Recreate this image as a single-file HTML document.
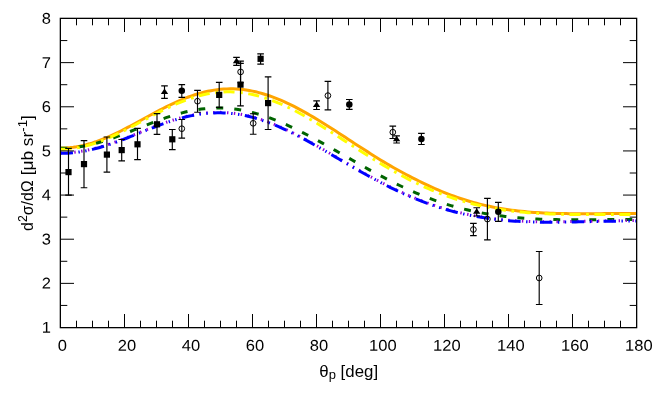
<!DOCTYPE html>
<html><head><meta charset="utf-8"><title>plot</title>
<style>
html,body{margin:0;padding:0;background:#fff;}
svg{display:block;}
text{font-family:"Liberation Sans",sans-serif;fill:#000;}
</style></head><body>
<svg width="664" height="399" viewBox="0 0 664 399">
<rect width="664" height="399" fill="#fff"/>
<g>
<path d="M60.50 148.08 L63.70 148.02 L66.90 147.86 L70.10 147.59 L73.30 147.22 L76.50 146.74 L79.70 146.16 L82.90 145.48 L86.10 144.70 L89.30 143.82 L92.50 142.85 L95.70 141.80 L98.90 140.66 L102.10 139.44 L105.30 138.15 L108.50 136.79 L111.70 135.36 L114.90 133.88 L118.10 132.34 L121.30 130.75 L124.50 129.12 L127.70 127.45 L130.90 125.76 L134.10 124.04 L137.30 122.30 L140.50 120.55 L143.70 118.79 L146.90 117.04 L150.10 115.29 L153.30 113.56 L156.50 111.85 L159.70 110.16 L162.90 108.50 L166.10 106.88 L169.30 105.31 L172.50 103.78 L175.70 102.30 L178.90 100.88 L182.10 99.52 L185.30 98.23 L188.50 97.00 L191.70 95.85 L194.90 94.78 L198.10 93.79 L201.30 92.88 L204.50 92.06 L207.70 91.33 L210.90 90.69 L214.10 90.14 L217.30 89.68 L220.50 89.31 L223.70 89.05 L226.90 88.89 L230.10 88.82 L233.30 88.86 L236.50 88.99 L239.70 89.23 L242.90 89.56 L246.10 89.99 L249.30 90.51 L252.50 91.12 L255.70 91.83 L258.90 92.62 L262.10 93.49 L265.30 94.45 L268.50 95.49 L271.70 96.61 L274.90 97.80 L278.10 99.08 L281.30 100.42 L284.50 101.83 L287.70 103.31 L290.90 104.85 L294.10 106.45 L297.30 108.11 L300.50 109.81 L303.70 111.56 L306.90 113.37 L310.10 115.21 L313.30 117.10 L316.50 119.02 L319.70 120.97 L322.90 122.95 L326.10 124.96 L329.30 126.99 L332.50 129.03 L335.70 131.09 L338.90 133.17 L342.10 135.26 L345.30 137.36 L348.50 139.46 L351.70 141.56 L354.90 143.65 L358.10 145.72 L361.30 147.78 L364.50 149.83 L367.70 151.87 L370.90 153.91 L374.10 155.92 L377.30 157.93 L380.50 159.91 L383.70 161.86 L386.90 163.77 L390.10 165.63 L393.30 167.46 L396.50 169.26 L399.70 171.03 L402.90 172.78 L406.10 174.50 L409.30 176.18 L412.50 177.82 L415.70 179.43 L418.90 181.02 L422.10 182.58 L425.30 184.11 L428.50 185.62 L431.70 187.09 L434.90 188.53 L438.10 189.92 L441.30 191.27 L444.50 192.57 L447.70 193.84 L450.90 195.06 L454.10 196.24 L457.30 197.38 L460.50 198.47 L463.70 199.52 L466.90 200.53 L470.10 201.49 L473.30 202.40 L476.50 203.28 L479.70 204.11 L482.90 204.90 L486.10 205.64 L489.30 206.34 L492.50 207.00 L495.70 207.62 L498.90 208.20 L502.10 208.74 L505.30 209.25 L508.50 209.72 L511.70 210.15 L514.90 210.56 L518.10 210.94 L521.30 211.29 L524.50 211.61 L527.70 211.91 L530.90 212.18 L534.10 212.41 L537.30 212.62 L540.50 212.81 L543.70 212.97 L546.90 213.11 L550.10 213.23 L553.30 213.33 L556.50 213.42 L559.70 213.50 L562.90 213.56 L566.10 213.61 L569.30 213.65 L572.50 213.68 L575.70 213.70 L578.90 213.71 L582.10 213.72 L585.30 213.72 L588.50 213.71 L591.70 213.69 L594.90 213.68 L598.10 213.66 L601.30 213.64 L604.50 213.61 L607.70 213.59 L610.90 213.57 L614.10 213.55 L617.30 213.53 L620.50 213.51 L623.70 213.50 L626.90 213.49 L630.10 213.48 L633.30 213.48 L636.50 213.47" fill="none" stroke="#ffa500" stroke-width="3"/>
<path d="M60.50 148.33 L63.70 148.29 L66.90 148.16 L70.10 147.95 L73.30 147.66 L76.50 147.28 L79.70 146.83 L82.90 146.30 L86.10 145.69 L89.30 145.01 L92.50 144.26 L95.70 143.45 L98.90 142.57 L102.10 141.63 L105.30 140.64 L108.50 139.59 L111.70 138.50 L114.90 137.37 L118.10 136.20 L121.30 135.00 L124.50 133.77 L127.70 132.52 L130.90 131.25 L134.10 129.97 L137.30 128.69 L140.50 127.40 L143.70 126.12 L146.90 124.85 L150.10 123.59 L153.30 122.35 L156.50 121.14 L159.70 119.96 L162.90 118.81 L166.10 117.70 L169.30 116.63 L172.50 115.61 L175.70 114.64 L178.90 113.73 L182.10 112.87 L185.30 112.08 L188.50 111.35 L191.70 110.68 L194.90 110.09 L198.10 109.56 L201.30 109.11 L204.50 108.74 L207.70 108.44 L210.90 108.22 L214.10 108.08 L217.30 108.02 L220.50 108.04 L223.70 108.13 L226.90 108.31 L230.10 108.57 L233.30 108.90 L236.50 109.31 L239.70 109.80 L242.90 110.37 L246.10 111.01 L249.30 111.73 L252.50 112.51 L255.70 113.37 L258.90 114.29 L262.10 115.28 L265.30 116.34 L268.50 117.45 L271.70 118.63 L274.90 119.86 L278.10 121.14 L281.30 122.48 L284.50 123.87 L287.70 125.31 L290.90 126.78 L294.10 128.31 L297.30 129.87 L300.50 131.46 L303.70 133.09 L306.90 134.75 L310.10 136.44 L313.30 138.15 L316.50 139.89 L319.70 141.65 L322.90 143.42 L326.10 145.21 L329.30 147.02 L332.50 148.83 L335.70 150.66 L338.90 152.48 L342.10 154.31 L345.30 156.15 L348.50 157.98 L351.70 159.81 L354.90 161.63 L358.10 163.44 L361.30 165.25 L364.50 167.04 L367.70 168.82 L370.90 170.58 L374.10 172.33 L377.30 174.06 L380.50 175.77 L383.70 177.45 L386.90 179.11 L390.10 180.75 L393.30 182.36 L396.50 183.94 L399.70 185.49 L402.90 187.02 L406.10 188.51 L409.30 189.96 L412.50 191.39 L415.70 192.77 L418.90 194.13 L422.10 195.44 L425.30 196.72 L428.50 197.96 L431.70 199.17 L434.90 200.33 L438.10 201.46 L441.30 202.54 L444.50 203.59 L447.70 204.60 L450.90 205.57 L454.10 206.49 L457.30 207.38 L460.50 208.23 L463.70 209.04 L466.90 209.81 L470.10 210.55 L473.30 211.24 L476.50 211.90 L479.70 212.53 L482.90 213.12 L486.10 213.69 L489.30 214.23 L492.50 214.73 L495.70 215.22 L498.90 215.67 L502.10 216.09 L505.30 216.49 L508.50 216.86 L511.70 217.20 L514.90 217.52 L518.10 217.82 L521.30 218.08 L524.50 218.33 L527.70 218.54 L530.90 218.74 L534.10 218.91 L537.30 219.06 L540.50 219.19 L543.70 219.30 L546.90 219.40 L550.10 219.48 L553.30 219.55 L556.50 219.61 L559.70 219.66 L562.90 219.70 L566.10 219.73 L569.30 219.75 L572.50 219.76 L575.70 219.77 L578.90 219.76 L582.10 219.76 L585.30 219.75 L588.50 219.73 L591.70 219.72 L594.90 219.70 L598.10 219.68 L601.30 219.66 L604.50 219.64 L607.70 219.62 L610.90 219.60 L614.10 219.58 L617.30 219.56 L620.50 219.55 L623.70 219.54 L626.90 219.53 L630.10 219.52 L633.30 219.52 L636.50 219.52" fill="none" stroke="#006400" stroke-width="3" stroke-dasharray="6.92 11.08"/>
<path d="M60.50 149.28 L63.70 149.23 L66.90 149.06 L70.10 148.80 L73.30 148.42 L76.50 147.95 L79.70 147.37 L82.90 146.69 L86.10 145.91 L89.30 145.04 L92.50 144.08 L95.70 143.04 L98.90 141.91 L102.10 140.70 L105.30 139.42 L108.50 138.07 L111.70 136.65 L114.90 135.18 L118.10 133.65 L121.30 132.08 L124.50 130.47 L127.70 128.82 L130.90 127.15 L134.10 125.45 L137.30 123.74 L140.50 122.01 L143.70 120.29 L146.90 118.57 L150.10 116.85 L153.30 115.15 L156.50 113.48 L159.70 111.83 L162.90 110.21 L166.10 108.64 L169.30 107.11 L172.50 105.62 L175.70 104.20 L178.90 102.83 L182.10 101.52 L185.30 100.29 L188.50 99.12 L191.70 98.04 L194.90 97.03 L198.10 96.10 L201.30 95.26 L204.50 94.50 L207.70 93.84 L210.90 93.27 L214.10 92.79 L217.30 92.41 L220.50 92.12 L223.70 91.93 L226.90 91.84 L230.10 91.84 L233.30 91.94 L236.50 92.13 L239.70 92.43 L242.90 92.81 L246.10 93.29 L249.30 93.86 L252.50 94.53 L255.70 95.28 L258.90 96.12 L262.10 97.04 L265.30 98.05 L268.50 99.13 L271.70 100.30 L274.90 101.53 L278.10 102.84 L281.30 104.22 L284.50 105.66 L287.70 107.17 L290.90 108.73 L294.10 110.35 L297.30 112.03 L300.50 113.75 L303.70 115.52 L306.90 117.33 L310.10 119.18 L313.30 121.07 L316.50 122.99 L319.70 124.93 L322.90 126.91 L326.10 128.90 L329.30 130.92 L332.50 132.95 L335.70 135.00 L338.90 137.05 L342.10 139.12 L345.30 141.18 L348.50 143.25 L351.70 145.32 L354.90 147.38 L358.10 149.43 L361.30 151.48 L364.50 153.51 L367.70 155.53 L370.90 157.54 L374.10 159.52 L377.30 161.48 L380.50 163.42 L383.70 165.34 L386.90 167.23 L390.10 169.09 L393.30 170.92 L396.50 172.72 L399.70 174.48 L402.90 176.21 L406.10 177.91 L409.30 179.57 L412.50 181.19 L415.70 182.77 L418.90 184.31 L422.10 185.81 L425.30 187.27 L428.50 188.68 L431.70 190.06 L434.90 191.39 L438.10 192.68 L441.30 193.92 L444.50 195.12 L447.70 196.28 L450.90 197.39 L454.10 198.46 L457.30 199.49 L460.50 200.47 L463.70 201.41 L466.90 202.31 L470.10 203.16 L473.30 203.98 L476.50 204.75 L479.70 205.49 L482.90 206.19 L486.10 206.86 L489.30 207.49 L492.50 208.09 L495.70 208.66 L498.90 209.19 L502.10 209.69 L505.30 210.16 L508.50 210.60 L511.70 211.01 L514.90 211.39 L518.10 211.74 L521.30 212.07 L524.50 212.37 L527.70 212.64 L530.90 212.89 L534.10 213.11 L537.30 213.31 L540.50 213.49 L543.70 213.65 L546.90 213.79 L550.10 213.91 L553.30 214.02 L556.50 214.12 L559.70 214.20 L562.90 214.27 L566.10 214.33 L569.30 214.38 L572.50 214.42 L575.70 214.46 L578.90 214.48 L582.10 214.50 L585.30 214.51 L588.50 214.51 L591.70 214.51 L594.90 214.51 L598.10 214.51 L601.30 214.50 L604.50 214.50 L607.70 214.49 L610.90 214.48 L614.10 214.47 L617.30 214.46 L620.50 214.46 L623.70 214.45 L626.90 214.44 L630.10 214.44 L633.30 214.44 L636.50 214.44" fill="none" stroke="#ffff00" stroke-width="3" stroke-dasharray="11.08 5.54 2.77 5.54"/>
<path d="M60.50 152.93 L63.70 152.88 L66.90 152.76 L70.10 152.55 L73.30 152.27 L76.50 151.90 L79.70 151.45 L82.90 150.93 L86.10 150.34 L89.30 149.67 L92.50 148.93 L95.70 148.12 L98.90 147.26 L102.10 146.33 L105.30 145.35 L108.50 144.32 L111.70 143.24 L114.90 142.12 L118.10 140.95 L121.30 139.76 L124.50 138.54 L127.70 137.29 L130.90 136.03 L134.10 134.75 L137.30 133.47 L140.50 132.18 L143.70 130.90 L146.90 129.62 L150.10 128.35 L153.30 127.10 L156.50 125.88 L159.70 124.68 L162.90 123.52 L166.10 122.39 L169.30 121.30 L172.50 120.26 L175.70 119.27 L178.90 118.33 L182.10 117.45 L185.30 116.63 L188.50 115.87 L191.70 115.19 L194.90 114.57 L198.10 114.02 L201.30 113.55 L204.50 113.15 L207.70 112.83 L210.90 112.60 L214.10 112.44 L217.30 112.36 L220.50 112.37 L223.70 112.46 L226.90 112.64 L230.10 112.89 L233.30 113.23 L236.50 113.65 L239.70 114.16 L242.90 114.74 L246.10 115.40 L249.30 116.14 L252.50 116.96 L255.70 117.85 L258.90 118.81 L262.10 119.84 L265.30 120.95 L268.50 122.11 L271.70 123.34 L274.90 124.63 L278.10 125.98 L281.30 127.38 L284.50 128.84 L287.70 130.34 L290.90 131.89 L294.10 133.48 L297.30 135.11 L300.50 136.78 L303.70 138.49 L306.90 140.22 L310.10 141.98 L313.30 143.77 L316.50 145.57 L319.70 147.40 L322.90 149.24 L326.10 151.09 L329.30 152.96 L332.50 154.83 L335.70 156.70 L338.90 158.58 L342.10 160.45 L345.30 162.32 L348.50 164.18 L351.70 166.04 L354.90 167.88 L358.10 169.72 L361.30 171.53 L364.50 173.33 L367.70 175.11 L370.90 176.87 L374.10 178.61 L377.30 180.32 L380.50 182.00 L383.70 183.66 L386.90 185.29 L390.10 186.89 L393.30 188.45 L396.50 189.99 L399.70 191.49 L402.90 192.96 L406.10 194.39 L409.30 195.78 L412.50 197.14 L415.70 198.46 L418.90 199.74 L422.10 200.99 L425.30 202.19 L428.50 203.36 L431.70 204.48 L434.90 205.57 L438.10 206.61 L441.30 207.62 L444.50 208.58 L447.70 209.51 L450.90 210.40 L454.10 211.24 L457.30 212.05 L460.50 212.82 L463.70 213.55 L466.90 214.24 L470.10 214.90 L473.30 215.52 L476.50 216.10 L479.70 216.65 L482.90 217.16 L486.10 217.65 L489.30 218.10 L492.50 218.53 L495.70 218.92 L498.90 219.29 L502.10 219.63 L505.30 219.94 L508.50 220.22 L511.70 220.48 L514.90 220.71 L518.10 220.91 L521.30 221.09 L524.50 221.25 L527.70 221.39 L530.90 221.50 L534.10 221.59 L537.30 221.66 L540.50 221.71 L543.70 221.75 L546.90 221.77 L550.10 221.78 L553.30 221.77 L556.50 221.76 L559.70 221.73 L562.90 221.70 L566.10 221.66 L569.30 221.61 L572.50 221.55 L575.70 221.49 L578.90 221.43 L582.10 221.36 L585.30 221.29 L588.50 221.22 L591.70 221.15 L594.90 221.08 L598.10 221.01 L601.30 220.95 L604.50 220.89 L607.70 220.83 L610.90 220.78 L614.10 220.73 L617.30 220.69 L620.50 220.65 L623.70 220.62 L626.90 220.60 L630.10 220.58 L633.30 220.57 L636.50 220.56" fill="none" stroke="#9400d3" stroke-width="3" stroke-dasharray="1.38 5.53"/>
<path d="M60.50 153.37 L63.70 153.33 L66.90 153.20 L70.10 153.00 L73.30 152.71 L76.50 152.34 L79.70 151.90 L82.90 151.37 L86.10 150.78 L89.30 150.11 L92.50 149.37 L95.70 148.57 L98.90 147.70 L102.10 146.77 L105.30 145.79 L108.50 144.76 L111.70 143.68 L114.90 142.56 L118.10 141.40 L121.30 140.20 L124.50 138.98 L127.70 137.74 L130.90 136.47 L134.10 135.20 L137.30 133.91 L140.50 132.62 L143.70 131.34 L146.90 130.06 L150.10 128.79 L153.30 127.55 L156.50 126.32 L159.70 125.12 L162.90 123.96 L166.10 122.83 L169.30 121.74 L172.50 120.70 L175.70 119.71 L178.90 118.77 L182.10 117.89 L185.30 117.07 L188.50 116.32 L191.70 115.63 L194.90 115.01 L198.10 114.46 L201.30 113.99 L204.50 113.59 L207.70 113.28 L210.90 113.04 L214.10 112.88 L217.30 112.81 L220.50 112.81 L223.70 112.90 L226.90 113.08 L230.10 113.33 L233.30 113.67 L236.50 114.10 L239.70 114.60 L242.90 115.18 L246.10 115.84 L249.30 116.58 L252.50 117.40 L255.70 118.29 L258.90 119.25 L262.10 120.29 L265.30 121.39 L268.50 122.55 L271.70 123.78 L274.90 125.07 L278.10 126.42 L281.30 127.82 L284.50 129.28 L287.70 130.78 L290.90 132.33 L294.10 133.92 L297.30 135.56 L300.50 137.22 L303.70 138.93 L306.90 140.66 L310.10 142.42 L313.30 144.21 L316.50 146.02 L319.70 147.84 L322.90 149.68 L326.10 151.54 L329.30 153.40 L332.50 155.27 L335.70 157.14 L338.90 159.02 L342.10 160.89 L345.30 162.76 L348.50 164.63 L351.70 166.48 L354.90 168.33 L358.10 170.16 L361.30 171.97 L364.50 173.77 L367.70 175.55 L370.90 177.31 L374.10 179.05 L377.30 180.76 L380.50 182.44 L383.70 184.10 L386.90 185.73 L390.10 187.33 L393.30 188.90 L396.50 190.43 L399.70 191.93 L402.90 193.40 L406.10 194.83 L409.30 196.22 L412.50 197.58 L415.70 198.90 L418.90 200.18 L422.10 201.43 L425.30 202.63 L428.50 203.80 L431.70 204.92 L434.90 206.01 L438.10 207.05 L441.30 208.06 L444.50 209.03 L447.70 209.95 L450.90 210.84 L454.10 211.68 L457.30 212.49 L460.50 213.26 L463.70 213.99 L466.90 214.68 L470.10 215.34 L473.30 215.96 L476.50 216.54 L479.70 217.09 L482.90 217.60 L486.10 218.09 L489.30 218.54 L492.50 218.97 L495.70 219.36 L498.90 219.73 L502.10 220.07 L505.30 220.38 L508.50 220.66 L511.70 220.92 L514.90 221.15 L518.10 221.35 L521.30 221.53 L524.50 221.69 L527.70 221.83 L530.90 221.94 L534.10 222.03 L537.30 222.10 L540.50 222.16 L543.70 222.19 L546.90 222.21 L550.10 222.22 L553.30 222.22 L556.50 222.20 L559.70 222.17 L562.90 222.14 L566.10 222.10 L569.30 222.05 L572.50 221.99 L575.70 221.93 L578.90 221.87 L582.10 221.80 L585.30 221.73 L588.50 221.66 L591.70 221.59 L594.90 221.52 L598.10 221.46 L601.30 221.39 L604.50 221.33 L607.70 221.27 L610.90 221.22 L614.10 221.17 L617.30 221.13 L620.50 221.09 L623.70 221.06 L626.90 221.04 L630.10 221.02 L633.30 221.01 L636.50 221.01" fill="none" stroke="#0000ff" stroke-width="3" stroke-dasharray="12.44 5.53 1.38 5.53 1.38 5.53"/>
<path d="M68.50 148.40V195.10M65.20 148.40H71.80M65.20 195.10H71.80" stroke="#000" stroke-width="1.15" fill="none"/><rect x="65.40" y="169.00" width="6.20" height="6.20" fill="#000"/>
<path d="M84.00 140.60V187.70M80.70 140.60H87.30M80.70 187.70H87.30" stroke="#000" stroke-width="1.15" fill="none"/><rect x="80.90" y="161.00" width="6.20" height="6.20" fill="#000"/>
<path d="M106.90 137.00V172.10M103.60 137.00H110.20M103.60 172.10H110.20" stroke="#000" stroke-width="1.15" fill="none"/><rect x="103.80" y="151.50" width="6.20" height="6.20" fill="#000"/>
<path d="M121.70 139.50V160.90M118.40 139.50H125.00M118.40 160.90H125.00" stroke="#000" stroke-width="1.15" fill="none"/><rect x="118.60" y="147.00" width="6.20" height="6.20" fill="#000"/>
<path d="M137.50 128.30V159.60M134.20 128.30H140.80M134.20 159.60H140.80" stroke="#000" stroke-width="1.15" fill="none"/><rect x="134.40" y="141.20" width="6.20" height="6.20" fill="#000"/>
<path d="M157.00 113.60V134.30M153.70 113.60H160.30M153.70 134.30H160.30" stroke="#000" stroke-width="1.15" fill="none"/><rect x="153.90" y="121.20" width="6.20" height="6.20" fill="#000"/>
<path d="M172.30 129.50V149.60M169.00 129.50H175.60M169.00 149.60H175.60" stroke="#000" stroke-width="1.15" fill="none"/><rect x="169.20" y="136.20" width="6.20" height="6.20" fill="#000"/>
<path d="M219.20 82.40V107.40M215.90 82.40H222.50M215.90 107.40H222.50" stroke="#000" stroke-width="1.15" fill="none"/><rect x="216.10" y="91.80" width="6.20" height="6.20" fill="#000"/>
<path d="M240.50 63.30V105.80M237.20 63.30H243.80M237.20 105.80H243.80" stroke="#000" stroke-width="1.15" fill="none"/><rect x="237.40" y="81.50" width="6.20" height="6.20" fill="#000"/>
<path d="M260.60 53.90V64.10M257.30 53.90H263.90M257.30 64.10H263.90" stroke="#000" stroke-width="1.15" fill="none"/><rect x="257.50" y="55.70" width="6.20" height="6.20" fill="#000"/>
<path d="M268.10 76.80V129.50M264.80 76.80H271.40M264.80 129.50H271.40" stroke="#000" stroke-width="1.15" fill="none"/><rect x="265.00" y="100.00" width="6.20" height="6.20" fill="#000"/>
<path d="M164.50 85.80V98.30M161.20 85.80H167.80M161.20 98.30H167.80" stroke="#000" stroke-width="1.15" fill="none"/><path d="M164.50 88.39L160.84 93.89L168.16 93.89Z" fill="#000"/>
<path d="M236.50 57.30V65.30M233.20 57.30H239.80M233.20 65.30H239.80" stroke="#000" stroke-width="1.15" fill="none"/><path d="M236.50 57.64L232.84 63.14L240.16 63.14Z" fill="#000"/>
<path d="M316.60 100.90V109.50M313.30 100.90H319.90M313.30 109.50H319.90" stroke="#000" stroke-width="1.15" fill="none"/><path d="M316.60 101.54L312.94 107.04L320.26 107.04Z" fill="#000"/>
<path d="M396.60 135.90V143.00M393.30 135.90H399.90M393.30 143.00H399.90" stroke="#000" stroke-width="1.15" fill="none"/><path d="M396.60 135.79L392.94 141.29L400.26 141.29Z" fill="#000"/>
<path d="M476.70 207.70V216.00M473.40 207.70H480.00M473.40 216.00H480.00" stroke="#000" stroke-width="1.15" fill="none"/><path d="M476.70 208.19L473.04 213.69L480.36 213.69Z" fill="#000"/>
<path d="M181.80 84.60V97.30M178.50 84.60H185.10M178.50 97.30H185.10" stroke="#000" stroke-width="1.15" fill="none"/><circle cx="181.80" cy="90.80" r="3.25" fill="#000"/>
<path d="M349.30 99.50V109.40M346.00 99.50H352.60M346.00 109.40H352.60" stroke="#000" stroke-width="1.15" fill="none"/><circle cx="349.30" cy="104.50" r="3.25" fill="#000"/>
<path d="M421.40 133.40V144.50M418.10 133.40H424.70M418.10 144.50H424.70" stroke="#000" stroke-width="1.15" fill="none"/><circle cx="421.40" cy="138.90" r="3.25" fill="#000"/>
<path d="M498.30 202.30V221.30M495.00 202.30H501.60M495.00 221.30H501.60" stroke="#000" stroke-width="1.15" fill="none"/><circle cx="498.30" cy="211.80" r="3.25" fill="#000"/>
<path d="M181.80 119.50V138.10M178.50 119.50H185.10M178.50 138.10H185.10" stroke="#000" stroke-width="1.15" fill="none"/><circle cx="181.80" cy="128.70" r="2.85" fill="none" stroke="#000" stroke-width="1"/>
<path d="M197.50 90.30V112.20M194.20 90.30H200.80M194.20 112.20H200.80" stroke="#000" stroke-width="1.15" fill="none"/><circle cx="197.50" cy="101.20" r="2.85" fill="none" stroke="#000" stroke-width="1"/>
<path d="M240.60 61.10V82.70M237.30 61.10H243.90M237.30 82.70H243.90" stroke="#000" stroke-width="1.15" fill="none"/><circle cx="240.60" cy="71.90" r="2.85" fill="none" stroke="#000" stroke-width="1"/>
<path d="M253.20 113.70V134.20M249.90 113.70H256.50M249.90 134.20H256.50" stroke="#000" stroke-width="1.15" fill="none"/><circle cx="253.20" cy="123.30" r="2.85" fill="none" stroke="#000" stroke-width="1"/>
<path d="M327.90 81.30V109.90M324.60 81.30H331.20M324.60 109.90H331.20" stroke="#000" stroke-width="1.15" fill="none"/><circle cx="327.90" cy="95.60" r="2.85" fill="none" stroke="#000" stroke-width="1"/>
<path d="M392.80 126.10V138.50M389.50 126.10H396.10M389.50 138.50H396.10" stroke="#000" stroke-width="1.15" fill="none"/><circle cx="392.80" cy="132.20" r="2.85" fill="none" stroke="#000" stroke-width="1"/>
<path d="M473.40 223.40V235.60M470.10 223.40H476.70M470.10 235.60H476.70" stroke="#000" stroke-width="1.15" fill="none"/><circle cx="473.40" cy="229.50" r="2.85" fill="none" stroke="#000" stroke-width="1"/>
<path d="M487.40 198.30V239.80M484.10 198.30H490.70M484.10 239.80H490.70" stroke="#000" stroke-width="1.15" fill="none"/><circle cx="487.40" cy="219.10" r="2.85" fill="none" stroke="#000" stroke-width="1"/>
<path d="M539.20 251.50V304.50M535.90 251.50H542.50M535.90 304.50H542.50" stroke="#000" stroke-width="1.15" fill="none"/><circle cx="539.20" cy="278.00" r="2.85" fill="none" stroke="#000" stroke-width="1"/>
</g>
<g style="opacity:0.999">
<path d="M60.50 327.50v-13.50M60.50 18.50v13.50M76.50 327.50v-6.80M76.50 18.50v6.80M92.50 327.50v-6.80M92.50 18.50v6.80M108.50 327.50v-6.80M108.50 18.50v6.80M124.50 327.50v-13.50M124.50 18.50v13.50M140.50 327.50v-6.80M140.50 18.50v6.80M156.50 327.50v-6.80M156.50 18.50v6.80M172.50 327.50v-6.80M172.50 18.50v6.80M188.50 327.50v-13.50M188.50 18.50v13.50M204.50 327.50v-6.80M204.50 18.50v6.80M220.50 327.50v-6.80M220.50 18.50v6.80M236.50 327.50v-6.80M236.50 18.50v6.80M252.50 327.50v-13.50M252.50 18.50v13.50M268.50 327.50v-6.80M268.50 18.50v6.80M284.50 327.50v-6.80M284.50 18.50v6.80M300.50 327.50v-6.80M300.50 18.50v6.80M316.50 327.50v-13.50M316.50 18.50v13.50M332.50 327.50v-6.80M332.50 18.50v6.80M348.50 327.50v-6.80M348.50 18.50v6.80M364.50 327.50v-6.80M364.50 18.50v6.80M380.50 327.50v-13.50M380.50 18.50v13.50M396.50 327.50v-6.80M396.50 18.50v6.80M412.50 327.50v-6.80M412.50 18.50v6.80M428.50 327.50v-6.80M428.50 18.50v6.80M444.50 327.50v-13.50M444.50 18.50v13.50M460.50 327.50v-6.80M460.50 18.50v6.80M476.50 327.50v-6.80M476.50 18.50v6.80M492.50 327.50v-6.80M492.50 18.50v6.80M508.50 327.50v-13.50M508.50 18.50v13.50M524.50 327.50v-6.80M524.50 18.50v6.80M540.50 327.50v-6.80M540.50 18.50v6.80M556.50 327.50v-6.80M556.50 18.50v6.80M572.50 327.50v-13.50M572.50 18.50v13.50M588.50 327.50v-6.80M588.50 18.50v6.80M604.50 327.50v-6.80M604.50 18.50v6.80M620.50 327.50v-6.80M620.50 18.50v6.80M636.50 327.50v-13.50M636.50 18.50v13.50M60.50 327.50h13.50M636.50 327.50h-13.50M60.50 305.43h6.80M636.50 305.43h-6.80M60.50 283.36h13.50M636.50 283.36h-13.50M60.50 261.29h6.80M636.50 261.29h-6.80M60.50 239.21h13.50M636.50 239.21h-13.50M60.50 217.14h6.80M636.50 217.14h-6.80M60.50 195.07h13.50M636.50 195.07h-13.50M60.50 173.00h6.80M636.50 173.00h-6.80M60.50 150.93h13.50M636.50 150.93h-13.50M60.50 128.86h6.80M636.50 128.86h-6.80M60.50 106.79h13.50M636.50 106.79h-13.50M60.50 84.71h6.80M636.50 84.71h-6.80M60.50 62.64h13.50M636.50 62.64h-13.50M60.50 40.57h6.80M636.50 40.57h-6.80M60.50 18.50h13.50M636.50 18.50h-13.50" stroke="#000" stroke-width="1" fill="none"/>
<rect x="60.35" y="18.35" width="576.30" height="309.30" fill="none" stroke="#000" stroke-width="1.3"/>
<text transform="translate(62.30 350.70) rotate(0.03) scale(1.060 1)" text-anchor="middle" font-size="15.60">0</text>
<text transform="translate(126.90 350.70) rotate(0.03) scale(1.060 1)" text-anchor="middle" font-size="15.60">20</text>
<text transform="translate(190.90 350.70) rotate(0.03) scale(1.060 1)" text-anchor="middle" font-size="15.60">40</text>
<text transform="translate(254.90 350.70) rotate(0.03) scale(1.060 1)" text-anchor="middle" font-size="15.60">60</text>
<text transform="translate(318.90 350.70) rotate(0.03) scale(1.060 1)" text-anchor="middle" font-size="15.60">80</text>
<text transform="translate(382.90 350.70) rotate(0.03) scale(1.060 1)" text-anchor="middle" font-size="15.60">100</text>
<text transform="translate(446.90 350.70) rotate(0.03) scale(1.060 1)" text-anchor="middle" font-size="15.60">120</text>
<text transform="translate(510.90 350.70) rotate(0.03) scale(1.060 1)" text-anchor="middle" font-size="15.60">140</text>
<text transform="translate(574.90 350.70) rotate(0.03) scale(1.060 1)" text-anchor="middle" font-size="15.60">160</text>
<text transform="translate(638.90 350.70) rotate(0.03) scale(1.060 1)" text-anchor="middle" font-size="15.60">180</text>
<text transform="translate(51.00 332.75) rotate(0.03) scale(1.060 1)" text-anchor="end" font-size="15.60">1</text>
<text transform="translate(51.00 288.61) rotate(0.03) scale(1.060 1)" text-anchor="end" font-size="15.60">2</text>
<text transform="translate(51.00 244.46) rotate(0.03) scale(1.060 1)" text-anchor="end" font-size="15.60">3</text>
<text transform="translate(51.00 200.32) rotate(0.03) scale(1.060 1)" text-anchor="end" font-size="15.60">4</text>
<text transform="translate(51.00 156.18) rotate(0.03) scale(1.060 1)" text-anchor="end" font-size="15.60">5</text>
<text transform="translate(51.00 112.04) rotate(0.03) scale(1.060 1)" text-anchor="end" font-size="15.60">6</text>
<text transform="translate(51.00 67.89) rotate(0.03) scale(1.060 1)" text-anchor="end" font-size="15.60">7</text>
<text transform="translate(51.00 23.75) rotate(0.03) scale(1.060 1)" text-anchor="end" font-size="15.60">8</text>
<text transform="translate(348.7 377.4) scale(1.040 1)" text-anchor="middle" font-size="16.20">θ<tspan dy="2" font-size="12.5">p</tspan><tspan dy="-2"> [deg]</tspan></text>
<text transform="translate(33.3 230.9) rotate(-90)" text-anchor="start" textLength="50.6" lengthAdjust="spacingAndGlyphs" font-size="16.20">d<tspan dy="-6" font-size="12.5">2</tspan><tspan dy="6">σ/dΩ</tspan></text>
<text transform="translate(33.3 175.3) rotate(-90)" text-anchor="start" textLength="60.2" lengthAdjust="spacingAndGlyphs" font-size="16.20">[μb sr<tspan dy="-6" font-size="12.5">-1</tspan><tspan dy="6">]</tspan></text>
</g>
</svg>
</body></html>
